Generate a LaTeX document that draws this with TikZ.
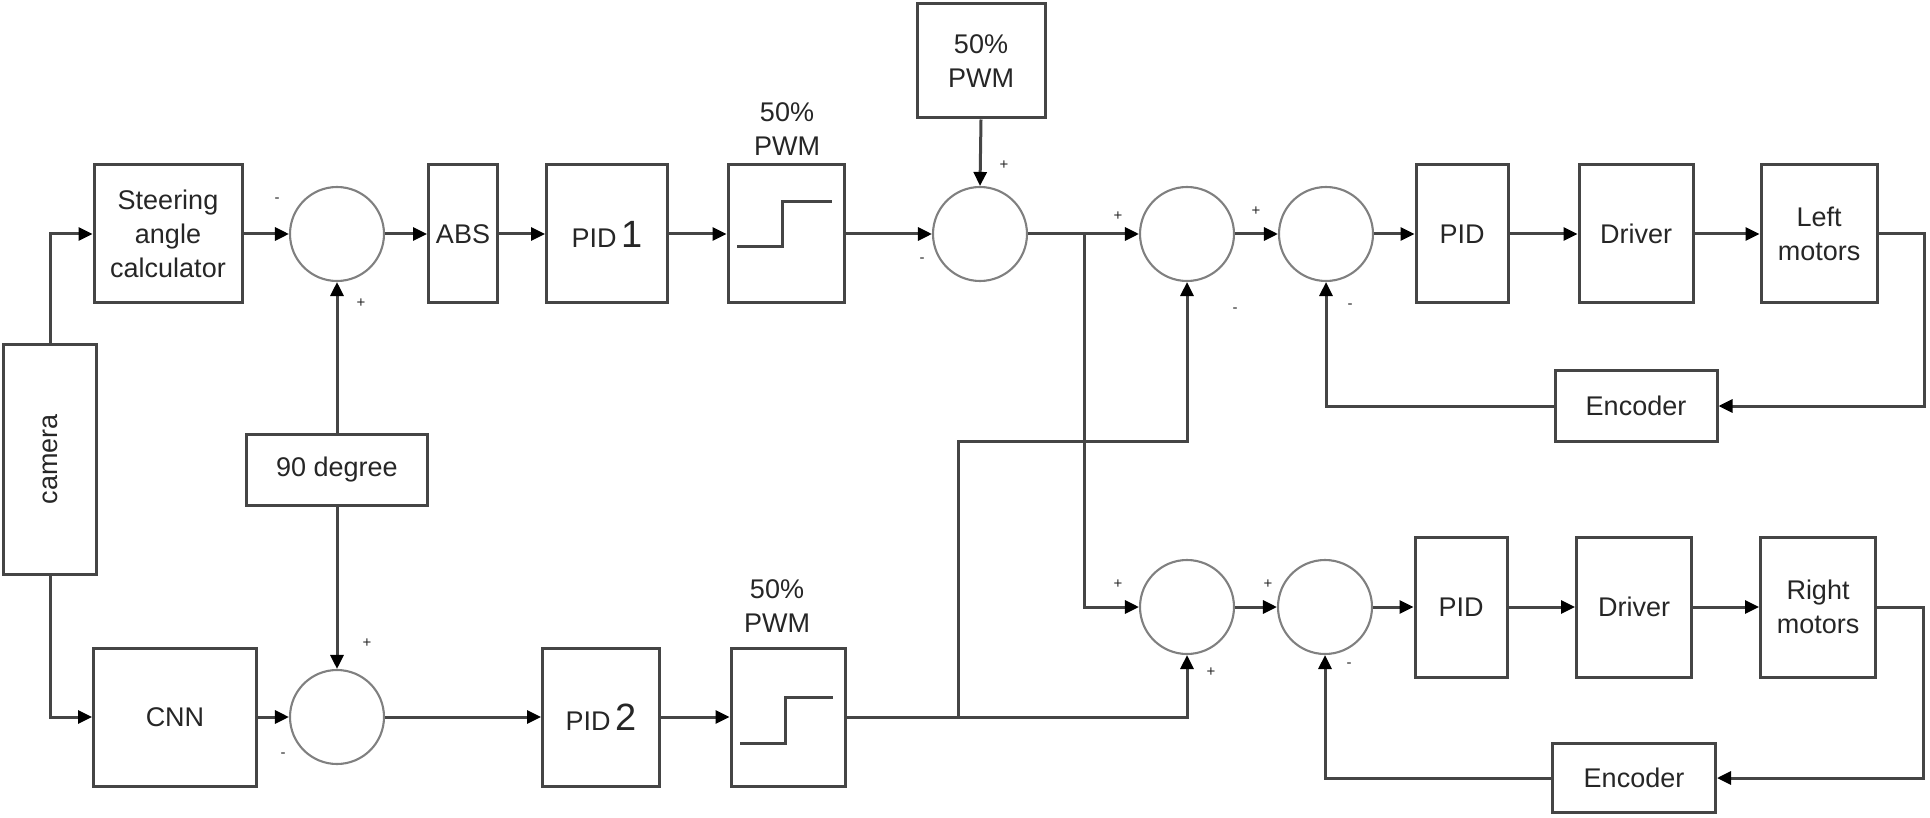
\documentclass[tikz,border=0pt]{standalone}
\usepackage{fontspec}
\setmainfont{Liberation Sans}
\usetikzlibrary{arrows.meta}
\definecolor{wire}{HTML}{454545}
\definecolor{rim}{HTML}{808080}

\tikzset{
  block/.style={draw=wire, line width=3pt, inner sep=0pt, align=center, text=black!85},
  summer/.style={circle, draw=rim, line width=2.1pt, minimum size=94pt, inner sep=0pt},
  sign/.style={font=\fontsize{15}{15}\selectfont, inner sep=0pt, text=black!85},
  link/.style={draw=wire, line width=3pt},
  feed/.style={link, -{Triangle[length=14pt,width=13pt,color=black]}}
}

\begin{document}
\begin{tikzpicture}[x=1pt, y=-1pt, font=\fontsize{27}{34}\selectfont]
  \useasboundingbox (0,0) rectangle (1930,818);

  % camera and upper chain
  \node[block, minimum width=93pt, minimum height=230pt] (cam) at (50,459) {\rotatebox{90}{camera}};
  \node[block, minimum width=148pt, minimum height=138pt] (steer) at (168,234) {Steering\\angle\\calculator};
  \node[summer] (sum1) at (337,234) {};
  \node[block, minimum width=69pt, minimum height=138pt] (abs) at (463,234) {ABS};
  \node[block, minimum width=121pt, minimum height=138pt] (pid1) at (607,234) {PID\,{\fontsize{38}{38}\selectfont 1}};
  \node[block, minimum width=116pt, minimum height=138pt] (pwm1) at (786,234) {};
  \node[align=center, text=black!85] (pwm1lab) at (787,129) {50\%\\PWM};
  \node[block, minimum width=128pt, minimum height=114pt] (pwm0) at (981,61) {50\%\\PWM};
  \node[summer] (sum3) at (980,234) {};
  \node[summer] (sum4) at (1187,234) {};
  \node[summer] (sum5) at (1326,234) {};
  \node[block, minimum width=92pt, minimum height=138pt] (pidL) at (1462,234) {PID};
  \node[block, minimum width=114pt, minimum height=138pt] (drvL) at (1636,234) {Driver};
  \node[block, minimum width=116pt, minimum height=138pt] (motL) at (1819,234) {Left\\motors};
  \node[block, minimum width=162pt, minimum height=71pt] (encL) at (1636,406) {Encoder};

  \node[block, minimum width=181pt, minimum height=71pt] (deg) at (337,470) {90 degree};

  % lower chain
  \node[block, minimum width=163pt, minimum height=138pt] (cnn) at (175,717) {CNN};
  \node[summer] (sum2) at (337,717) {};
  \node[block, minimum width=117pt, minimum height=138pt] (pid2) at (601,717) {PID\,{\fontsize{38}{38}\selectfont 2}};
  \node[block, minimum width=114pt, minimum height=138pt] (pwm2) at (788,717) {};
  \node[align=center, text=black!85] (pwm2lab) at (777,606) {50\%\\PWM};
  \node[summer] (sum6) at (1187,607) {};
  \node[summer] (sum7) at (1325,607) {};
  \node[block, minimum width=92pt, minimum height=140pt] (pidR) at (1461,607) {PID};
  \node[block, minimum width=115pt, minimum height=140pt] (drvR) at (1634,607) {Driver};
  \node[block, minimum width=115pt, minimum height=140pt] (motR) at (1818,607) {Right\\motors};
  \node[block, minimum width=163pt, minimum height=69pt] (encR) at (1634,778) {Encoder};

  % steps in the PWM blocks
  \draw[link] (737,247) -- (782,247) -- (782,202) -- (832,202);
  \draw[link] (740,743) -- (785,743) -- (785,697) -- (833,697);

  % signs
  \node[sign] (s1a) at (277,200) {-};
  \node[sign] (s1b) at (361,303) {+};
  \node[sign] (s2a) at (367,643) {+};
  \node[sign] (s2b) at (283,755) {-};
  \node[sign] (s3a) at (1004,165) {+};
  \node[sign] (s3b) at (922,260) {-};
  \node[sign] (s4a) at (1118,216) {+};
  \node[sign] (s4b) at (1235,310) {-};
  \node[sign] (s5a) at (1256,211) {+};
  \node[sign] (s5b) at (1350,306) {-};
  \node[sign] (s6a) at (1118,584) {+};
  \node[sign] (s6b) at (1211,672) {+};
  \node[sign] (s7a) at (1268,584) {+};
  \node[sign] (s7b) at (1349,665) {-};

  % straight links
  \foreach \a/\b in {steer/sum1, sum1/abs, abs/pid1, pid1/pwm1, pwm1/sum3,
                     sum4/sum5, sum5/pidL, pidL/drvL, drvL/motL,
                     cnn/sum2, sum2/pid2, pid2/pwm2,
                     sum6/sum7, sum7/pidR, pidR/drvR, drvR/motR}
    \draw[feed] (\a.east) -- (\b.west);

  \draw[feed] (cam.north) |- (steer.west);
  \draw[feed] (cam.south) |- (cnn.west);
  \draw[feed] (pwm0.south) -- (sum3.north);
  \draw[feed] (deg.north) -- (sum1.south);
  \draw[feed] (deg.south) -- (sum2.north);

  % branches
  \coordinate (splitA) at (1084,234);
  \draw[link] (sum3.east) -- (splitA);
  \draw[feed] (splitA) -- (sum4.west);
  \draw[feed] (splitA) |- (sum6.west);
  \coordinate (splitB) at (958,717);
  \coordinate (upB) at (958,441);
  \draw[link] (pwm2.east) -- (splitB);
  \draw[feed] (splitB) -| (sum6.south);
  \draw[feed] (splitB) -- (upB) -| (sum4.south);

  % encoder loops
  \draw[feed] (motL.east) -- ++(46,0) |- (encL.east);
  \draw[feed] (encL.west) -| (sum5.south);
  \draw[feed] (motR.east) -- ++(46,0) |- (encR.east);
  \draw[feed] (encR.west) -| (sum7.south);
\end{tikzpicture}
\end{document}
